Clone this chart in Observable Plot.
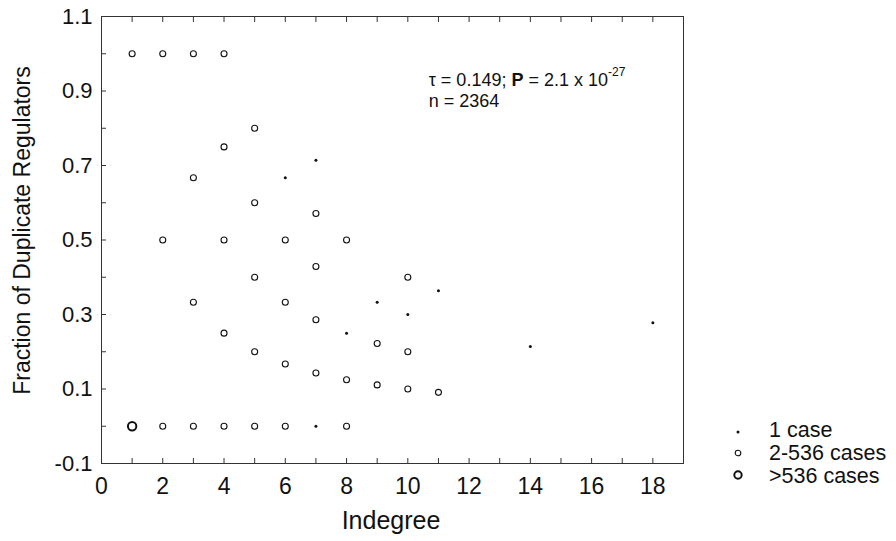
<!DOCTYPE html>
<html>
<head>
<meta charset="utf-8">
<script src="https://cdn.jsdelivr.net/npm/d3@7"></script>
<script src="https://cdn.jsdelivr.net/npm/@observablehq/plot@0.6"></script>
<style>
  html, body { margin: 0; padding: 0; background: #fff; }
  #chart svg { display: block; }
</style>
</head>
<body>
<div id="chart"></div>
<script>
// Indegree (x), fraction of duplicate regulators (y), case-count class
const indegree = [1, 1, 2, 2, 2, 3, 3, 3, 3, 4, 4, 4, 4, 4,
  5, 5, 5, 5, 5, 6, 6, 6, 6, 6, 7, 7, 7, 7, 7, 7,
  8, 8, 8, 8, 9, 9, 9, 10, 10, 10, 10, 11, 11, 14, 18];
const fraction = [1.0, 0.0, 1.0, 0.5, 0.0, 1.0, 0.667, 0.333, 0.0, 1.0, 0.75, 0.5, 0.25, 0.0,
  0.8, 0.6, 0.4, 0.2, 0.0, 0.667, 0.5, 0.333, 0.167, 0.0, 0.714, 0.571, 0.429, 0.286, 0.143, 0.0,
  0.5, 0.25, 0.125, 0.0, 0.333, 0.222, 0.111, 0.4, 0.3, 0.2, 0.1, 0.364, 0.091, 0.214, 0.278];
const caseClass = ["m", "L", "m", "m", "m", "m", "m", "m", "m", "m", "m", "m", "m", "m",
  "m", "m", "m", "m", "m", "s", "m", "m", "m", "m", "s", "m", "m", "m", "m", "s",
  "m", "s", "m", "m", "s", "m", "m", "m", "s", "m", "m", "s", "m", "s", "s"];

const classLabels = {s: "1 case", m: "2-536 cases", L: ">536 cases"};
const legendOrder = ["s", "m", "L"];

const xTicksMajor = [0, 2, 4, 6, 8, 10, 12, 14, 16, 18];
const xTicksMinor = d3.range(0, 20, 1);
const yTicksMajor = [-0.1, 0.1, 0.3, 0.5, 0.7, 0.9, 1.1];
const yTicksMinor = [-0.1, 0, 0.1, 0.2, 0.3, 0.4, 0.5, 0.6, 0.7, 0.8, 0.9, 1.0, 1.1];

const stats = {tau: "0.149", p: "2.1 x 10", exp: "-27", n: "2364"};

const data = indegree.map((x, i) => ({x, y: fraction[i], c: caseClass[i]}));

const font = "'Liberation Sans', Arial, Helvetica, sans-serif";
const ink = "#111";

const plot = Plot.plot({
  width: 896,
  height: 541,
  marginLeft: 101,
  marginRight: 213,
  marginTop: 16,
  marginBottom: 78,
  style: {fontFamily: font, fontSize: "22px", color: ink, background: "#fff"},
  x: {domain: [0, 19]},
  y: {domain: [-0.1, 1.1]},
  marks: [
    Plot.frame({stroke: "#333", strokeWidth: 1}),
    Plot.axisX({ticks: xTicksMinor, tickSize: -5, tickFormat: () => "", label: null, stroke: "#333"}),
    Plot.axisX({ticks: xTicksMinor, anchor: "top", tickSize: -5, tickFormat: () => "", label: null, stroke: "#333"}),
    Plot.axisX({ticks: xTicksMajor, tickSize: 0, tickPadding: 14, tickFormat: d => String(d), fontSize: 23, label: null}),
    Plot.axisY({ticks: yTicksMinor, tickSize: -5, tickFormat: () => "", label: null, stroke: "#333"}),
    Plot.axisY({ticks: yTicksMajor, tickSize: 0, tickPadding: 9, tickFormat: d => d.toFixed(1), fontSize: 22, label: null}),
    Plot.dot(data.filter(d => d.c === "m"), {x: "x", y: "y", r: 3, stroke: ink, strokeWidth: 1.1, fill: "none"}),
    Plot.dot(data.filter(d => d.c === "L"), {x: "x", y: "y", r: 4.2, stroke: ink, strokeWidth: 2, fill: "none"}),
    Plot.dot(data.filter(d => d.c === "s"), {x: "x", y: "y", r: 1.5, fill: ink, stroke: "none"})
  ]
});

document.getElementById("chart").appendChild(plot);

const sx = plot.scale("x"), sy = plot.scale("y");
const svg = d3.select(plot);
const x0 = sx.apply(0), x19 = sx.apply(19);
const yTop = sy.apply(1.1), yBot = sy.apply(-0.1);

// Axis titles
svg.append("text")
  .attr("x", (x0 + x19) / 2 - 1).attr("y", yBot + 66)
  .attr("text-anchor", "middle")
  .style("font-family", font).style("font-size", "25px").attr("fill", ink)
  .text("Indegree");
svg.append("text")
  .attr("transform", `translate(30,${(yTop + yBot) / 2 - 9}) rotate(-90)`)
  .attr("text-anchor", "middle")
  .style("font-family", font).style("font-size", "23px").attr("fill", ink)
  .text("Fraction of Duplicate Regulators");

// Statistics annotation
const ax = sx.apply(10.7);
const ann = svg.append("text")
  .attr("x", ax).attr("y", sy.apply(0.912))
  .attr("text-anchor", "start")
  .style("font-family", font).style("font-size", "18px").attr("fill", ink);
ann.append("tspan").text("\u03C4 = " + stats.tau + "; ");
ann.append("tspan").style("font-weight", "bold").text("P");
ann.append("tspan").text(" = " + stats.p);
ann.append("tspan").attr("dy", -10).style("font-size", "12px").text(stats.exp);
svg.append("text")
  .attr("x", ax).attr("y", sy.apply(0.856))
  .attr("text-anchor", "start")
  .style("font-family", font).style("font-size", "18px").attr("fill", ink)
  .text("n = " + stats.n);

// Legend
const lg = svg.append("g").attr("transform", "translate(738,430)");
legendOrder.forEach((k, i) => {
  const gy = [0, 23, 46][i];
  if (k === "s") lg.append("circle").attr("cx", 0).attr("cy", gy + 2).attr("r", 1.5).attr("fill", ink);
  if (k === "m") lg.append("circle").attr("cx", 0).attr("cy", gy).attr("r", 2.8).attr("fill", "none").attr("stroke", ink).attr("stroke-width", 1.1);
  if (k === "L") lg.append("circle").attr("cx", 0).attr("cy", gy - 1).attr("r", 3.7).attr("fill", "none").attr("stroke", ink).attr("stroke-width", 2);
  lg.append("text").attr("x", 31).attr("y", gy).attr("dominant-baseline", "central")
    .attr("text-anchor", "start")
    .style("font-family", font).style("font-size", "21.5px").attr("fill", ink)
    .text(classLabels[k]);
});
</script>
</body>
</html>
